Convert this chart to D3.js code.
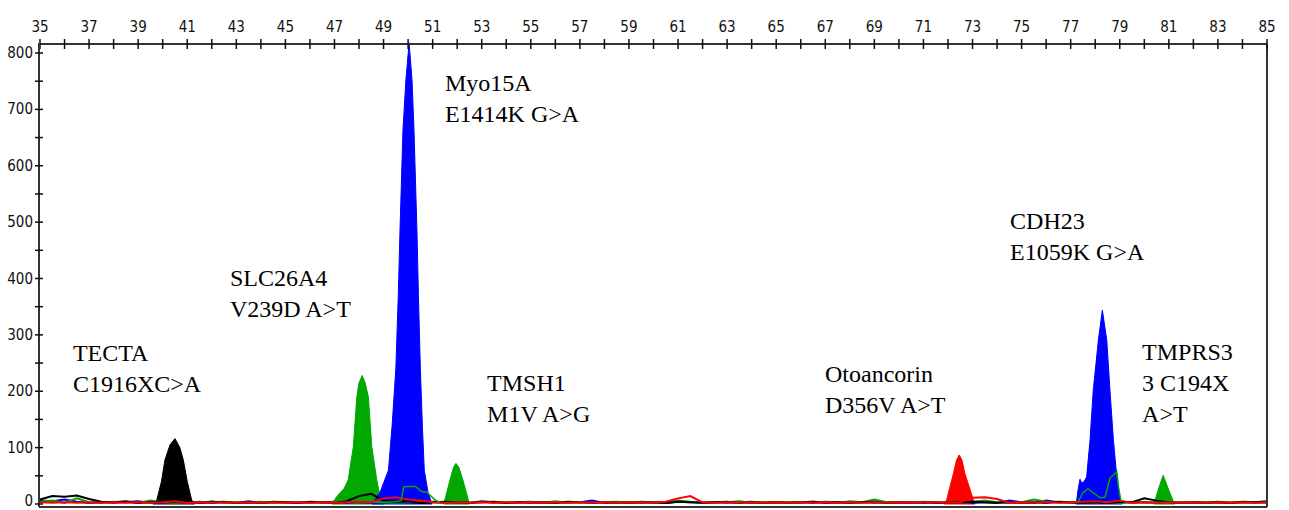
<!DOCTYPE html>
<html>
<head>
<meta charset="utf-8">
<script src="https://cdn.jsdelivr.net/npm/d3@7"></script>
<style>
  body { margin: 0; background: #fff; }
  svg { display: block; }
  .tick-label { font-family: "Liberation Sans Narrow", "Arial Narrow", "DejaVu Sans Condensed", sans-serif; font-size: 15px; fill: #111; }
  .peak-label { font-family: "Liberation Serif", "Times New Roman", serif; font-size: 24px; fill: #000; }
</style>
</head>
<body>
<div class="electropherogram"></div>
<script>
// size axis (bp) and RFU ticks
const sizeTicks = d3.range(35, 86, 1);
const sizeLabels = d3.range(35, 86, 2);
const rfuTicks = d3.range(0, 801, 50);
const rfuLabels = d3.range(0, 801, 100);

// filled peaks, [size, rfu]
const tectaPeak = [[39.6,0],[39.76,7],[39.95,40],[40.09,78],[40.3,105],[40.5,116],[40.7,100],[40.84,78],[41.0,40],[41.18,7],[41.3,0]];
const slcPeak = [[46.9,0],[47.09,13],[47.4,28],[47.56,43],[47.77,102],[47.91,190],[48.0,215],[48.13,228],[48.25,215],[48.38,190],[48.52,102],[48.72,43],[48.86,13],[49.0,0]];
const myoPeak = [[48.53,0],[48.86,21],[49.2,60],[49.35,140],[49.5,240],[49.6,370],[49.67,486],[49.79,663],[49.91,752],[50.04,818],[50.16,752],[50.24,663],[50.36,486],[50.42,370],[50.5,240],[50.58,140],[50.66,60],[50.81,21],[50.97,0]];
const tmshPeak = [[51.45,0],[51.5,8],[51.71,43],[51.85,65],[51.95,72],[52.07,65],[52.23,43],[52.45,8],[52.5,0]];
const otoPeak = [[71.85,0],[71.95,8],[72.22,54],[72.35,78],[72.46,87],[72.57,78],[72.69,54],[73.03,8],[73.1,0]];
const cdhPeak = [[77.2,0],[77.24,4],[77.3,25],[77.38,44],[77.45,37],[77.55,40],[77.65,48],[77.79,114],[77.92,202],[78.13,291],[78.29,344],[78.47,291],[78.6,202],[78.74,114],[78.88,48],[79.01,10],[79.1,0]];
const tmprPeak = [[80.38,0],[80.43,5],[80.6,30],[80.77,51],[80.95,30],[81.18,5],[81.25,0]];

// unfilled green trace riding on the blue peaks
const greenOnMyo = [[49.0,3],[49.5,4],[49.71,6],[49.82,30],[49.96,31],[50.3,31],[50.55,22],[50.77,21],[51.1,7],[51.3,3]];
const greenOnCdh = [[77.3,4],[77.5,20],[77.71,27],[77.91,20],[78.2,11],[78.4,12],[78.6,46],[78.88,57],[78.95,30],[79.05,5]];

// baseline noise, one value per 0.5 bp from 35 to 85
const noiseSizes = d3.range(35, 85.01, 0.5);
const blackNoise = [8,14,13,15,9,4,3,5,2,3, 4,3,5,2,3,4,2,3,2,4, 3,2,4,3,2,5,14,18,6,3, 5,2,3,4,3,2,3,4,2,3,
  2,3,2,4,3,2,3,2,3,2, 3,2,4,3,2,3,4,2,3,2, 3,2,3,4,2,3,2,3,4,2, 3,2,3,2,2,3,4,3,2,3, 2,3,2,4,3,2,3,2,4,3, 10,6,3,2,3,2,3,2,4,3,5];
const redNoise = [3,2,3,2,3,2,3,2,3,2, 3,5,2,3,2,3,2,3,2,3, 2,3,2,3,2,3,4,3,10,12, 8,6,3,2,3,2,3,2,3,2,
  3,2,3,2,3,2,3,2,3,2, 3,4,10,14,3,2,3,2,3,2, 3,2,3,2,3,2,3,2,3,2, 3,2,3,3,2,3,11,12,9,2, 3,2,3,2,3,4,5,3,6,2, 3,2,3,2,3,2,3,2,3,2,3];
const greenNoise = [4,6,2,10,3,2,4,3,2,6, 3,2,4,2,5,2,3,2,4,2, 3,2,3,2,4,3,3,4,3,2, 3,4,3,2,3,2,4,2,3,2,
  3,2,5,2,3,2,3,4,2,3, 2,3,6,4,3,2,3,5,2,3, 2,3,2,4,3,2,5,3,8,3, 3,2,4,3,2,3,4,6,3,2, 3,8,4,3,2,3,2,3,2,3, 2,3,2,3,2,3,2,3,2,3,2];
const blueNoise = [6,5,8,4,2,3,2,3,5,2, 2,3,2,4,2,3,2,5,2,3, 2,3,2,3,4,2,3,2,3,4, 2,3,4,2,3,2,5,3,2,3,
  4,2,3,2,3,6,2,3,2,4, 3,2,4,3,2,3,2,3,4,2, 3,2,3,2,4,3,2,3,2,3, 2,3,2,3,2,4,2,3,2,6, 3,2,6,3,2,3,2,3,2,3, 3,2,3,2,3,2,4,2,3,2,3];

// peak annotations: text lines and anchor [size, rfu] of first line
const labelLines = [
  ["TECTA", "C1916XC>A"],
  ["SLC26A4", "V239D A>T"],
  ["Myo15A", "E1414K G>A"],
  ["TMSH1", "M1V A>G"],
  ["Otoancorin", "D356V A>T"],
  ["CDH23", "E1059K G>A"],
  ["TMPRS3", "3 C194X", "A>T"]
];
const labelAt = [[36.34,254],[42.74,387],[51.5,733],[53.22,200],[66.99,216],[74.53,488],[79.91,255]];

const width = 1289;
const height = 510;
const svg = d3.select('.electropherogram')
  .append('svg')
  .attr('width', width)
  .attr('height', height);

const x = d3.scaleLinear().domain([35, 85]).range([40, 1267]);
const y = d3.scaleLinear().domain([0, 800]).range([504, 53]);

const topY = 44;
const leftX = 39;
const bottomY = 507;

// traces
const area = d3.area()
  .x(function(d) { return x(d[0]); })
  .y0(y(0))
  .y1(function(d) { return y(d[1]); });
const line = d3.line()
  .x(function(d) { return x(d[0]); })
  .y(function(d) { return y(d[1]); });

const filled = [
  {data: slcPeak, color: "#00a800"},
  {data: tmshPeak, color: "#00a800"},
  {data: tmprPeak, color: "#00a800"},
  {data: tectaPeak, color: "#000000"},
  {data: otoPeak, color: "#ff0000"},
  {data: myoPeak, color: "#0000ff"},
  {data: cdhPeak, color: "#0000ff"}
];

svg.selectAll("path.peak")
  .data(filled)
  .enter()
  .append("path")
  .attr("class", "peak")
  .attr("d", function(d) { return area(d.data); })
  .attr("fill", function(d) { return d.color; })
  .attr("stroke", function(d) { return d.color; })
  .attr("stroke-width", 1);

const noise = [
  {vals: blueNoise, color: "#0000ff"},
  {vals: greenNoise, color: "#00a800"},
  {vals: blackNoise, color: "#000000"},
  {vals: redNoise, color: "#ff0000"}
];

svg.selectAll("path.noise")
  .data(noise)
  .enter()
  .append("path")
  .attr("class", "noise")
  .attr("d", function(d) {
    return line(d.vals.map(function(v, i) { return [noiseSizes[i], v]; }));
  })
  .attr("fill", "none")
  .attr("stroke", function(d) { return d.color; })
  .attr("stroke-width", 2);

svg.selectAll("path.green-line")
  .data([greenOnMyo, greenOnCdh])
  .enter()
  .append("path")
  .attr("class", "green-line")
  .attr("d", line)
  .attr("fill", "none")
  .attr("stroke", "#00a800")
  .attr("stroke-width", 1.5);

// frame
svg.append("line")
  .attr("x1", leftX).attr("x2", 1267)
  .attr("y1", bottomY).attr("y2", bottomY)
  .attr("stroke", "#333").attr("stroke-width", 2);
svg.append("line")
  .attr("x1", 1267).attr("x2", 1267)
  .attr("y1", topY).attr("y2", bottomY)
  .attr("stroke", "#333").attr("stroke-width", 2);

// top size axis
svg.append("line")
  .attr("x1", leftX).attr("x2", 1267)
  .attr("y1", topY).attr("y2", topY)
  .attr("stroke", "#333").attr("stroke-width", 2);

svg.selectAll("line.xtick")
  .data(sizeTicks)
  .enter()
  .append("line")
  .attr("class", "xtick")
  .attr("x1", function(d) { return x(d); })
  .attr("x2", function(d) { return x(d); })
  .attr("y1", topY - 5)
  .attr("y2", topY + 5)
  .attr("stroke", "#111")
  .attr("stroke-width", 1.5);

svg.selectAll("text.xlabel")
  .data(sizeLabels)
  .enter()
  .append("text")
  .attr("class", "tick-label")
  .text(function(d) { return d; })
  .attr("x", function(d) { return x(d); })
  .attr("y", 32)
  .attr("text-anchor", "middle");

// left RFU axis
svg.append("line")
  .attr("x1", leftX).attr("x2", leftX)
  .attr("y1", topY - 1).attr("y2", bottomY)
  .attr("stroke", "#333").attr("stroke-width", 2);

svg.selectAll("line.ytick")
  .data(rfuTicks)
  .enter()
  .append("line")
  .attr("class", "ytick")
  .attr("x1", leftX - 4)
  .attr("x2", leftX + 4)
  .attr("y1", function(d) { return y(d); })
  .attr("y2", function(d) { return y(d); })
  .attr("stroke", "#111")
  .attr("stroke-width", 1.5);

svg.selectAll("text.ylabel")
  .data(rfuLabels)
  .enter()
  .append("text")
  .attr("class", "tick-label")
  .text(function(d) { return d; })
  .attr("x", leftX - 6)
  .attr("y", function(d) { return d === 0 ? y(d) + 2 : y(d) + 5; })
  .attr("text-anchor", "end");

// peak annotations
const labels = svg.selectAll("text.peak-label")
  .data(labelLines)
  .enter()
  .append("text")
  .attr("class", "peak-label")
  .attr("x", function(d, i) { return x(labelAt[i][0]); })
  .attr("y", function(d, i) { return y(labelAt[i][1]); });

labels.selectAll("tspan")
  .data(function(d) { return d; })
  .enter()
  .append("tspan")
  .attr("x", function() { return this.parentNode.getAttribute("x"); })
  .attr("dy", function(d, i) { return i === 0 ? 0 : 31; })
  .text(function(d) { return d; });
</script>
</body>
</html>
